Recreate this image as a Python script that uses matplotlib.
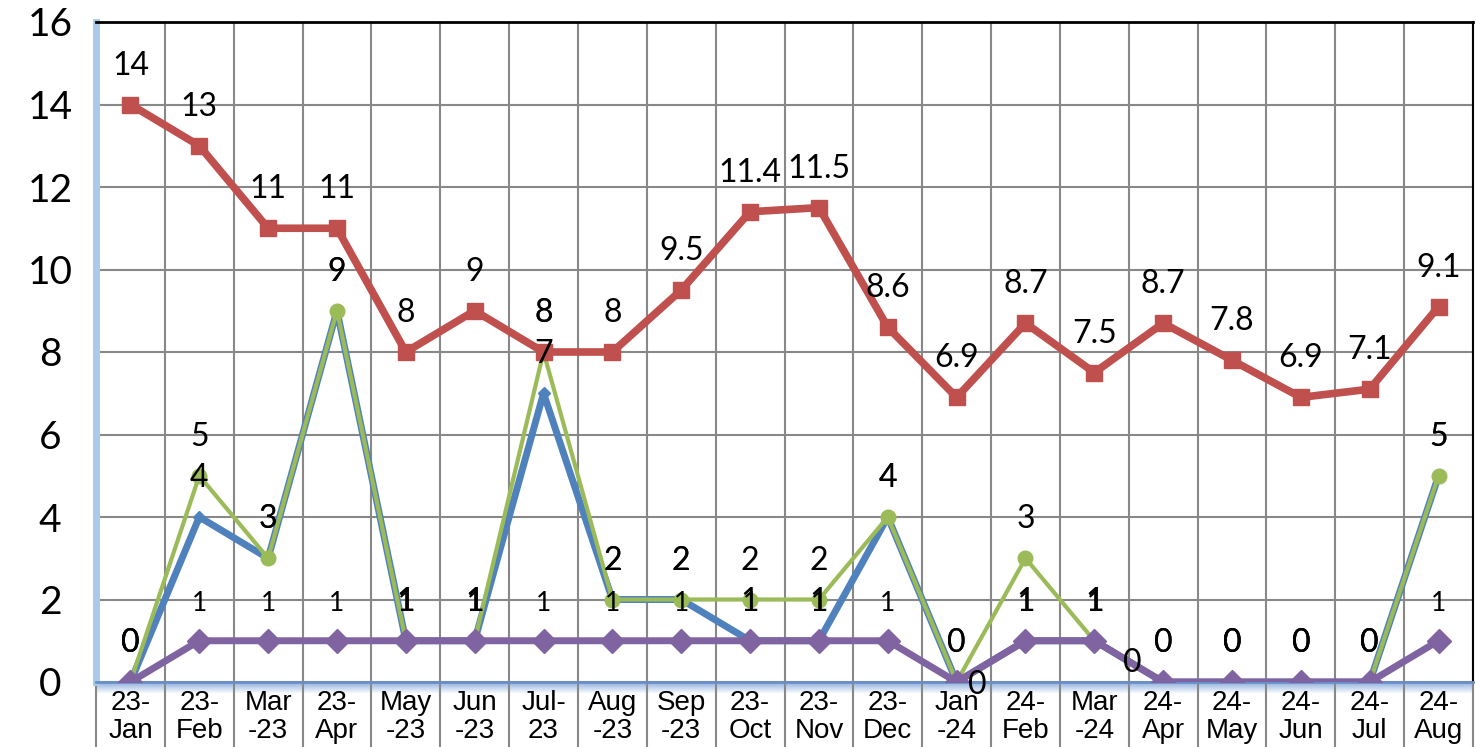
import matplotlib.pyplot as plt
import numpy as np

# categories (two-line tick labels as in the source sheet)
months = ['23-\nJan', '23-\nFeb', 'Mar\n-23', '23-\nApr', 'May\n-23', 'Jun\n-23',
          'Jul-\n23', 'Aug\n-23', 'Sep\n-23', '23-\nOct', '23-\nNov', '23-\nDec',
          'Jan\n-24', '24-\nFeb', 'Mar\n-24', '24-\nApr', '24-\nMay', '24-\nJun',
          '24-\nJul', '24-\nAug']

red_vals = [14, 13, 11, 11, 8, 9, 8, 8, 9.5, 11.4, 11.5, 8.6, 6.9, 8.7, 7.5, 8.7, 7.8, 6.9, 7.1, 9.1]
blue_vals = [0, 4, 3, 9, 1, 1, 7, 2, 2, 1, 1, 4, 0, 1, 1, 0, 0, 0, 0, 5]
green_vals = [0, 5, 3, 9, 1, 1, 8, 2, 2, 2, 2, 4, 0, 3, 1, 0, 0, 0, 0, 5]
purple_vals = [0, 1, 1, 1, 1, 1, 1, 1, 1, 1, 1, 1, 0, 1, 1, 0, 0, 0, 0, 1]

RED = '#C0504D'
BLUE = '#4F81BD'
GREEN = '#9BBB59'
PURPLE = '#8064A2'
LABEL_FONT = ['Lato', 'DejaVu Sans']
LBL = 23

fig = plt.figure(figsize=(14.76, 7.47), dpi=100)
ax = fig.add_axes([96 / 1476, 1 - 682 / 747, (1473 - 96) / 1476, (682 - 22) / 747])

x = np.arange(len(months))

ax.plot(x, blue_vals, color=BLUE, lw=5, marker='D', ms=6.5, zorder=3)
ax.plot(x, green_vals, color=GREEN, lw=3, marker='o', ms=10.5, zorder=4)
ax.plot(x, red_vals, color=RED, lw=5.5, marker='s', ms=12, zorder=5)
ax.plot(x, purple_vals, color=PURPLE, lw=5, marker='D', ms=12, zorder=6)


def fmt(v):
    return f'{v:g}'


# data labels
for i, v in enumerate(red_vals):
    ax.annotate(fmt(v), (i, v), xytext=(0, 28), textcoords='offset points',
                ha='center', va='center', fontsize=LBL, family=LABEL_FONT, zorder=10)
for i, v in enumerate(green_vals):
    ax.annotate(fmt(v), (i, v), xytext=(0, 28), textcoords='offset points',
                ha='center', va='center', fontsize=LBL, family=LABEL_FONT, zorder=10)
# two blue labels were dragged off their points in the original
blue_offsets = {12: (15, -2), 15: (-22, 14)}
for i, v in enumerate(blue_vals):
    dx, dy = blue_offsets.get(i, (0, 28))
    ax.annotate(fmt(v), (i, v), xytext=(dx, dy), textcoords='offset points',
                ha='center', va='center', fontsize=LBL, family=LABEL_FONT, zorder=10,
                annotation_clip=False)
# purple: smaller "1"s; zeros sit exactly under the other zero labels
for i, v in enumerate(purple_vals):
    if v == 0:
        ax.annotate(fmt(v), (i, v), xytext=(0, 28), textcoords='offset points',
                    ha='center', va='center', fontsize=LBL, family=LABEL_FONT, zorder=10)
    else:
        ax.annotate(fmt(v), (i, v), xytext=(0, 27), textcoords='offset points',
                    ha='center', va='center', fontsize=19, family=LABEL_FONT, zorder=10)

ax.set_xlim(-0.5, len(months) - 0.5)
ax.set_ylim(0, 16)
ax.set_yticks(np.arange(0, 17, 2))
ax.set_yticklabels([str(t) for t in range(0, 17, 2)], fontsize=28, family=LABEL_FONT)
ax.tick_params(axis='y', length=0, pad=33)
for lbl in ax.get_yticklabels():
    lbl.set_horizontalalignment('center')

ax.set_xticks(x)
ax.set_xticklabels(months, fontsize=20, family=['Liberation Sans', 'DejaVu Sans'],
                   linespacing=1.1)
ax.tick_params(axis='x', which='major', length=0, pad=6)
ax.set_xticks(np.arange(-0.5, len(months)), minor=True)
ax.tick_params(axis='x', which='minor', length=48, width=1.5, color='#888888', direction='out')

ax.grid(True, which='major', axis='y', color='#888888', lw=1.5, zorder=0)
ax.grid(True, which='minor', axis='x', color='#888888', lw=1.5, zorder=0)
ax.set_axisbelow(True)

ax.spines['top'].set_color('black')
ax.spines['top'].set_linewidth(2)
ax.spines['right'].set_color('black')
ax.spines['right'].set_linewidth(1.5)
ax.spines['left'].set_color('#A9CBEA')
ax.spines['left'].set_linewidth(5)
ax.spines['bottom'].set_color('#6A8FC8')
ax.spines['bottom'].set_linewidth(2)

# soft blue glow under the x axis
glow = fig.add_axes([96 / 1476, 1 - 694 / 747, (1473 - 96) / 1476, 11 / 747], zorder=-1)
grad = np.linspace(1, 0, 20).reshape(-1, 1)
glow.imshow(grad, aspect='auto', cmap=plt.matplotlib.colors.LinearSegmentedColormap.from_list(
    'g', ['#FFFFFF', '#8FB0DD']), extent=[0, 1, 0, 1])
glow.axis('off')

fig.savefig('out.png', dpi=100, facecolor='white')
